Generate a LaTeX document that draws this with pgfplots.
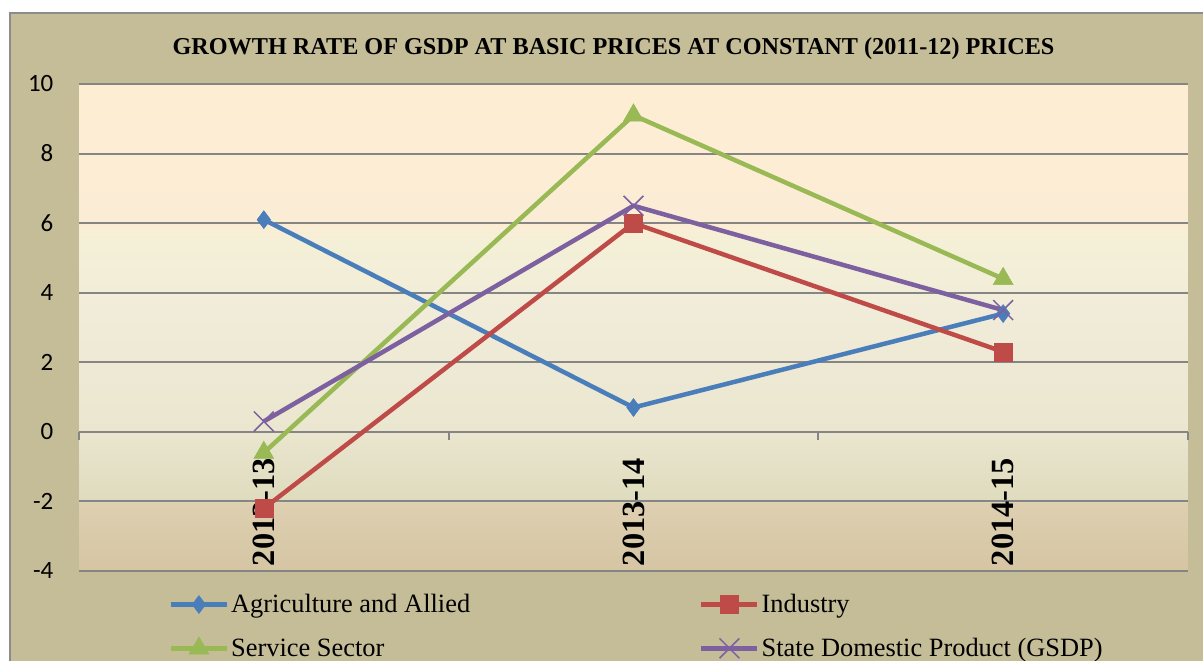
\documentclass[border=0pt]{standalone}
\usepackage{fontspec}
\setmainfont{Liberation Serif}
\newfontfamily\carlito{Carlito}
\usepackage{pgfplots}
\pgfplotsset{compat=1.18}
\definecolor{outerbg}{HTML}{C5BD98}
\definecolor{framegray}{HTML}{8C8C8C}
\definecolor{gridgray}{HTML}{858585}
\definecolor{cagri}{HTML}{4A7EBB}
\definecolor{cind}{HTML}{BE4B48}
\definecolor{cserv}{HTML}{98B954}
\definecolor{cgsdp}{HTML}{7D60A0}
\definecolor{bgA}{HTML}{D5C5A3}
\definecolor{bgB}{HTML}{DDCFB0}
\definecolor{bgC}{HTML}{DFDBBE}
\definecolor{bgD}{HTML}{EAE6CF}
\definecolor{bgE}{HTML}{F1ECD9}
\definecolor{bgF}{HTML}{F4F0D7}
\definecolor{bgG}{HTML}{FBEDD5}
\definecolor{bgH}{HTML}{FDEDD3}
\pgfdeclareverticalshading{plotbg}{100bp}{color(0bp)=(bgA); color(25bp)=(bgA); color(31.98bp)=(bgB); color(32.19bp)=(bgC); color(39.17bp)=(bgD); color(51.69bp)=(bgE); color(58.88bp)=(bgF); color(60.42bp)=(bgG); color(75bp)=(bgH); color(100bp)=(bgH)}
\begin{document}
\begin{tikzpicture}
\useasboundingbox (0bp,0bp) rectangle (1203bp,661bp);
\begin{scope}
\clip (0bp,0bp) rectangle (1203bp,661bp);
\fill[white] (0bp,0bp) rectangle (1203bp,661bp);
\filldraw[fill=outerbg, draw=framegray, line width=2bp] (10bp,-10bp) rectangle (1220bp,648bp);
\end{scope}
\begin{axis}[
  at={(79bp,90bp)}, anchor=south west,
  width=1109bp, height=487bp, scale only axis,
  xmin=0.5, xmax=3.5, ymin=-4, ymax=10,
  axis background/.style={shading=plotbg},
  axis x line=middle, axis y line=left,
  x axis line style={-, draw=gridgray, line width=2bp},
  y axis line style={-, draw=none},
  xtick={1,2,3}, xticklabels={2012-13,2013-14,2014-15},
  xtick style={draw=none},
  extra x ticks={0.5,1.5,2.5,3.5}, extra x tick labels={},
  extra x tick style={xtick style={draw=gridgray, line width=2bp}, major tick length=8bp, tick align=outside},
  ytick={-4,-2,0,2,4,6,8,10}, yticklabels={-4,-2,0,2,4,6,8,10},
  ytick style={draw=none},
  ymajorgrids=true,
  major grid style={draw=gridgray, line width=2bp},
  yticklabel style={font=\carlito\fontsize{25}{30}\selectfont, anchor=east, xshift=-20bp},
  xticklabel style={rotate=90, anchor=east, font=\bfseries\fontsize{32.5}{38}\selectfont, inner xsep=24bp},
  title={GROWTH RATE OF GSDP AT BASIC PRICES AT CONSTANT (2011-12) PRICES},
  title style={at={(0.482,1.049)}, anchor=base, font=\bfseries\fontsize{24.3}{29}\selectfont},
  legend columns=2, legend cell align=left,
  legend style={at={(0.078,-0.04)}, anchor=north west, draw=none, fill=none,
    font=\fontsize{26.5}{31}\selectfont, row sep=20bp,
    /tikz/every even column/.append style={column sep=227bp}},
  legend image code/.code={\draw[mark repeat=2,mark phase=2,#1] plot coordinates {(0bp,0bp) (28bp,0bp) (56bp,0bp)};},
  every axis plot/.append style={line width=4.5bp},
]
\addplot[cagri, mark=diamond*, mark size=9bp, mark options={solid, line width=0.5bp}] coordinates {(1,6.1) (2,0.7) (3,3.4)};
\addlegendentry{Agriculture and Allied}
\addplot[cind, mark=square*, mark size=9bp, mark options={solid, line width=0.5bp}] coordinates {(1,-2.2) (2,6.0) (3,2.3)};
\addlegendentry{Industry}
\addplot[cserv, mark=triangle*, mark size=11.5bp, mark options={solid, line width=0.5bp}] coordinates {(1,-0.6) (2,9.1) (3,4.4)};
\addlegendentry{Service Sector}
\addplot[cgsdp, mark=x, mark size=14bp, mark options={solid, line width=1.5bp}] coordinates {(1,0.3) (2,6.5) (3,3.5)};
\addlegendentry{State Domestic Product (GSDP)}
\end{axis}
\end{tikzpicture}
\end{document}
